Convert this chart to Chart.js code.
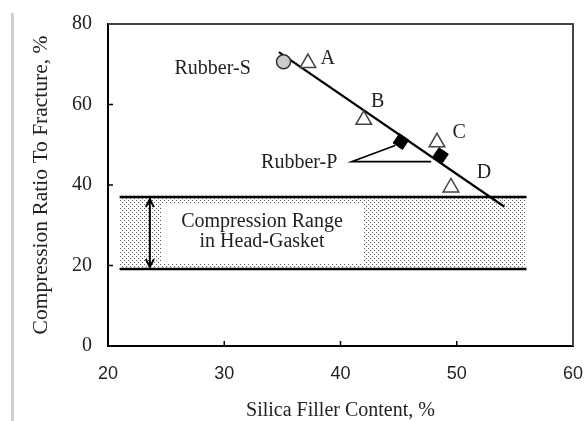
<!DOCTYPE html>
<html>
<head>
<meta charset="utf-8">
<script src="https://cdn.jsdelivr.net/npm/chart.js@4.4.1/dist/chart.umd.min.js"></script>
<style>
  html, body { margin: 0; padding: 0; background: #fff; }
  #wrap { width: 584px; height: 421px; position: relative; }
</style>
</head>
<body>
<div id="wrap"><canvas id="myChart"></canvas></div>
<script>
// data
const xTicks = [20, 30, 40, 50, 60];
const yTicks = [0, 20, 40, 60, 80];

const triNames = ['A', 'B', 'C', 'D'];
const triX = [37.2, 42.0, 48.3, 49.5];
const triY = [70.3, 56.2, 50.6, 39.4];

const rubberSX = [35.1];
const rubberSY = [70.6];

const rubberPX = [45.2, 48.6];
const rubberPY = [50.8, 47.3];

const fitX = [34.7, 54.1];
const fitY = [73.0, 34.6];

const leaderX = [44.7, 40.95, 47.8];
const leaderY = [49.8, 45.8, 45.8];

const bandX = [21, 56];
const bandLow = 19.1;
const bandHigh = 37.0;

// text labels (data units)
const labels = [
    { text: 'Rubber-S', x: 29.0, y: 69.0 },
    { text: 'A', x: 38.9, y: 71.3 },
    { text: 'B', x: 43.2, y: 60.6 },
    { text: 'C', x: 50.2, y: 52.9 },
    { text: 'D', x: 52.35, y: 43.0 },
    { text: 'Rubber-P', x: 36.45, y: 45.6 },
    { text: 'Compression Range', x: 33.25, y: 30.9 },
    { text: 'in Head-Gasket', x: 33.25, y: 25.9 }
];
const whiteBox = { x1: 24.62, x2: 41.94, y1: 20.4, y2: 35.5 };
const arrowX = 23.6;

function pts(xs, ys) {
    return xs.map((x, i) => ({ x: x, y: ys[i] }));
}

// dotted fill
function dotPattern() {
    const c = document.createElement('canvas');
    c.width = 4; c.height = 4;
    const g = c.getContext('2d');
    g.fillStyle = '#fff';
    g.fillRect(0, 0, 4, 4);
    g.fillStyle = '#555';
    g.fillRect(0, 0, 1, 1);
    g.fillRect(2, 2, 1, 1);
    return g.createPattern(c, 'repeat');
}

const serif = "'Liberation Serif', 'Times New Roman', serif";
const sans = "'Liberation Sans', Arial, sans-serif";

const decorPlugin = {
    id: 'decor',
    beforeDraw(chart) {
        const ctx = chart.ctx;
        ctx.save();
        ctx.fillStyle = '#fff';
        ctx.fillRect(0, 0, chart.width, chart.height);
        ctx.fillStyle = '#cfcfcf';
        ctx.fillRect(11, 13, 3, chart.height - 13);
        ctx.restore();
    },
    afterDatasetsDraw(chart) {
        const ctx = chart.ctx;
        const xs = chart.scales.x, ys = chart.scales.y;
        const a = chart.chartArea;
        ctx.save();

        // white box behind the band text
        const bx1 = xs.getPixelForValue(whiteBox.x1), bx2 = xs.getPixelForValue(whiteBox.x2);
        const by1 = ys.getPixelForValue(whiteBox.y2), by2 = ys.getPixelForValue(whiteBox.y1);
        ctx.fillStyle = '#fff';
        ctx.fillRect(bx1, by1, bx2 - bx1, by2 - by1);

        // double arrow
        const ax = xs.getPixelForValue(arrowX);
        const ay1 = ys.getPixelForValue(bandHigh) + 2, ay2 = ys.getPixelForValue(bandLow) - 2;
        ctx.strokeStyle = '#000';
        ctx.lineWidth = 2;
        ctx.beginPath();
        ctx.moveTo(ax, ay1); ctx.lineTo(ax, ay2);
        ctx.moveTo(ax - 4, ay1 + 8); ctx.lineTo(ax, ay1); ctx.lineTo(ax + 4, ay1 + 8);
        ctx.moveTo(ax - 4, ay2 - 8); ctx.lineTo(ax, ay2); ctx.lineTo(ax + 4, ay2 - 8);
        ctx.stroke();

        // text
        ctx.fillStyle = '#222';
        ctx.font = '20px ' + serif;
        ctx.textAlign = 'center';
        ctx.textBaseline = 'middle';
        labels.forEach(l => {
            ctx.fillText(l.text, xs.getPixelForValue(l.x), ys.getPixelForValue(l.y));
        });

        // inner ticks
        ctx.strokeStyle = '#000';
        ctx.lineWidth = 1.5;
        ctx.beginPath();
        yTicks.forEach(v => {
            const py = ys.getPixelForValue(v);
            ctx.moveTo(a.left, py); ctx.lineTo(a.left + 5, py);
        });
        xTicks.forEach(v => {
            const px = xs.getPixelForValue(v);
            ctx.moveTo(px, a.bottom); ctx.lineTo(px, a.bottom - 5);
        });
        ctx.stroke();

        // top and right frame
        ctx.strokeStyle = '#444';
        ctx.lineWidth = 2;
        ctx.beginPath();
        ctx.moveTo(a.left, a.top); ctx.lineTo(a.right, a.top); ctx.lineTo(a.right, a.bottom);
        ctx.stroke();
        ctx.restore();
    }
};

const ctx = document.getElementById('myChart');

// first dataset is drawn on top
new Chart(ctx, {
    type: 'scatter',
    data: {
        datasets: [
            {
                label: 'Rubber-P',
                data: pts(rubberPX, rubberPY),
                pointStyle: 'rect',
                rotation: 34,
                pointRadius: 8,
                backgroundColor: '#000',
                borderColor: '#000',
                borderWidth: 1
            },
            {
                label: 'Rubber-A..D',
                data: pts(triX, triY),
                pointStyle: 'triangle',
                pointRadius: 9,
                backgroundColor: '#fff',
                borderColor: '#444',
                borderWidth: 1.5
            },
            {
                label: 'Rubber-S',
                data: pts(rubberSX, rubberSY),
                pointStyle: 'circle',
                pointRadius: 7,
                backgroundColor: '#cccccc',
                borderColor: '#333',
                borderWidth: 1.5
            },
            {
                label: 'fit',
                data: pts(fitX, fitY),
                showLine: true,
                borderColor: '#000',
                borderWidth: 2.2,
                pointRadius: 0
            },
            {
                label: 'leader',
                data: pts(leaderX, leaderY),
                showLine: true,
                borderColor: '#000',
                borderWidth: 1.6,
                pointRadius: 0
            },
            {
                label: 'band low',
                data: pts(bandX, [bandLow, bandLow]),
                showLine: true,
                borderColor: '#000',
                borderWidth: 2.5,
                pointRadius: 0,
                fill: false
            },
            {
                label: 'band high',
                data: pts(bandX, [bandHigh, bandHigh]),
                showLine: true,
                borderColor: '#000',
                borderWidth: 2.5,
                pointRadius: 0,
                backgroundColor: dotPattern(),
                fill: '-1'
            }
        ]
    },
    options: {
        responsive: true,
        maintainAspectRatio: false,
        animation: false,
        layout: {
            padding: { left: 20, right: 11, top: 24, bottom: 0 }
        },
        plugins: {
            legend: { display: false },
            tooltip: { enabled: false },
            title: { display: false }
        },
        scales: {
            x: {
                type: 'linear',
                min: 20,
                max: 60,
                afterBuildTicks: (s) => { s.ticks = xTicks.map(v => ({ value: v })); },
                afterFit: (s) => { s.height = 75; s.paddingLeft = 10; s.paddingRight = 10; },
                grid: { display: false, drawTicks: false },
                border: { display: true, color: '#000', width: 2 },
                ticks: {
                    color: '#222',
                    padding: 17,
                    font: { family: sans, size: 18 }
                },
                title: {
                    display: true,
                    text: 'Silica Filler Content, %',
                    color: '#222',
                    font: { family: serif, size: 20, lineHeight: 1.0 },
                    padding: { top: 0, bottom: 0 }
                }
            },
            y: {
                min: 0,
                max: 80,
                afterBuildTicks: (s) => { s.ticks = yTicks.map(v => ({ value: v })); },
                afterFit: (s) => { s.width = 88; s.paddingTop = 10; s.paddingBottom = 10; },
                grid: { display: false, drawTicks: false },
                border: { display: true, color: '#000', width: 2 },
                ticks: {
                    color: '#222',
                    padding: 16,
                    font: { family: serif, size: 20 }
                },
                title: {
                    display: true,
                    text: 'Compression Ratio To Fracture, %',
                    color: '#222',
                    font: { family: serif, size: 21.5, lineHeight: 1.0 },
                    padding: { top: 11, bottom: 0 }
                }
            }
        }
    },
    plugins: [decorPlugin]
});
</script>
</body>
</html>
